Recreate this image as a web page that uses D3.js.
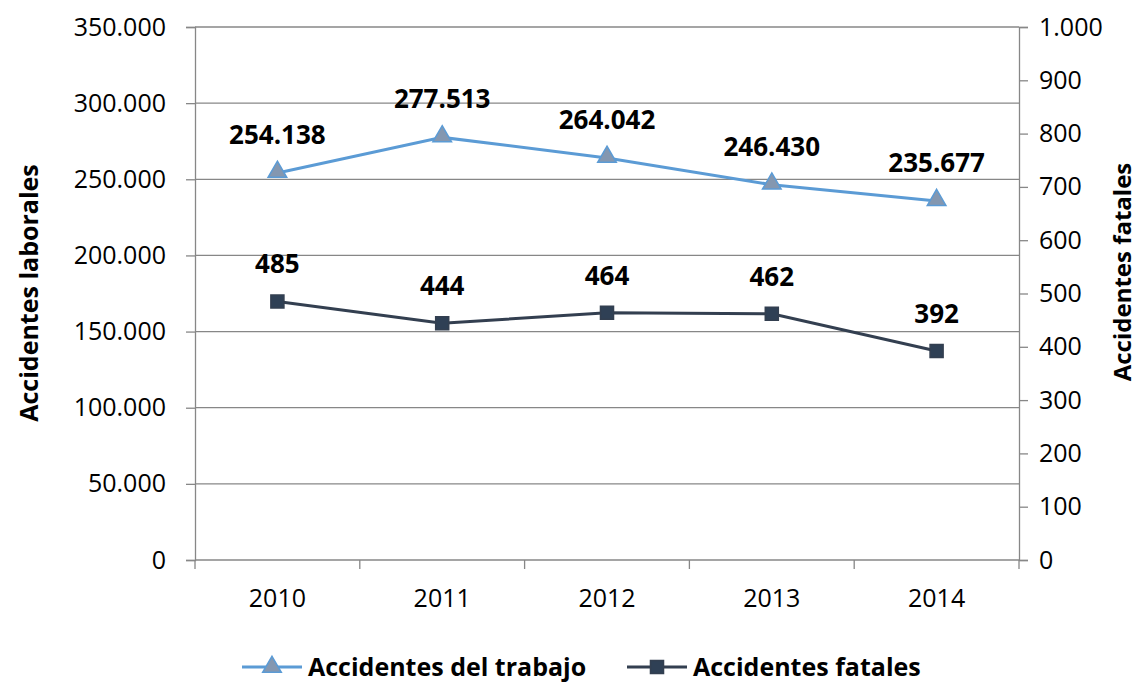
<!DOCTYPE html>
<html>
<head>
<meta charset="utf-8">
<script src="https://cdn.jsdelivr.net/npm/d3@7"></script>
<style>
  body { margin: 0; background: #fff; }
  text { font-family: "Open Sans", "Noto Sans", sans-serif; }
</style>
</head>
<body>
<div id="chart"></div>
<script>
// data
var years = ['2010', '2011', '2012', '2013', '2014'];
var trabajo = [254138, 277513, 264042, 246430, 235677];
var fatales = [485, 444, 464, 462, 392];
var leftTicks = [0, 50000, 100000, 150000, 200000, 250000, 300000, 350000];
var rightTicks = [0, 100, 200, 300, 400, 500, 600, 700, 800, 900, 1000];
var seriesNames = ['Accidentes del trabajo', 'Accidentes fatales'];

var W = 1139, H = 683;
var pLeft = 195, pRight = 1019, pTop = 27, pBottom = 560;

var fmt = d3.formatLocale({decimal: ',', thousands: '.', grouping: [3], currency: ['', '']}).format(',');

var svg = d3.select('#chart').append('svg')
  .attr('width', W).attr('height', H);

var x = d3.scaleBand().domain(years).range([pLeft, pRight]);
var yL = d3.scaleLinear().domain([0, 350000]).range([pBottom, pTop]);
var yR = d3.scaleLinear().domain([0, 1000]).range([pBottom, pTop]);

var gridColor = '#878787';

// gridlines
svg.append('g').selectAll('line')
  .data(leftTicks.filter(function(d){ return d > 0; }))
  .enter().append('line')
  .attr('x1', pLeft).attr('x2', pRight)
  .attr('y1', function(d){ return yL(d); })
  .attr('y2', function(d){ return yL(d); })
  .attr('stroke', gridColor).attr('stroke-width', 1.3);

// left axis
var leftAxis = svg.append('g').attr('transform', 'translate(' + pLeft + ',0)')
  .call(d3.axisLeft(yL).tickValues(leftTicks).tickFormat(fmt).tickSizeOuter(0).tickSize(9).tickPadding(20));
// right axis
var rightAxis = svg.append('g').attr('transform', 'translate(' + pRight + ',0)')
  .call(d3.axisRight(yR).tickValues(rightTicks).tickFormat(fmt).tickSizeOuter(0).tickSize(9).tickPadding(11));
// bottom axis with ticks at band edges
var bottomAxis = svg.append('g').attr('transform', 'translate(0,' + pBottom + ')')
  .call(d3.axisBottom(x).tickSize(0).tickPadding(29));
svg.append('g').selectAll('line')
  .data(d3.range(years.length + 1))
  .enter().append('line')
  .attr('x1', function(i){ return pLeft + i * x.step(); })
  .attr('x2', function(i){ return pLeft + i * x.step(); })
  .attr('y1', pBottom).attr('y2', pBottom + 9)
  .attr('stroke', gridColor).attr('stroke-width', 1.3);

[leftAxis, rightAxis, bottomAxis].forEach(function(a){
  a.selectAll('path, line').attr('stroke', gridColor).attr('stroke-width', 1.3);
  a.selectAll('text').style('font-size', '25px').attr('fill', '#000')
    .style('font-family', '"Open Sans", "Noto Sans", sans-serif');
});
bottomAxis.select('path').attr('d', 'M' + pLeft + ',0H' + pRight);

// axis titles
svg.append('text')
  .attr('transform', 'translate(38,293) rotate(-90)')
  .attr('text-anchor', 'middle')
  .style('font-size', '25px').style('font-weight', 'bold')
  .text('Accidentes laborales');
svg.append('text')
  .attr('transform', 'translate(1131,272) rotate(-90)')
  .attr('text-anchor', 'middle')
  .style('font-size', '24px').style('font-weight', 'bold')
  .text('Accidentes fatales');

var cx = function(i){ return x(years[i]) + x.bandwidth() / 2; };

var blue = '#5b9bd5', triFill = '#8497b0', navy = '#333f50', sqFill = '#2f4055';

// trabajo line
svg.append('path')
  .datum(trabajo)
  .attr('fill', 'none').attr('stroke', blue).attr('stroke-width', 3)
  .attr('d', d3.line().x(function(d, i){ return cx(i); }).y(function(d){ return yL(d); }));
// fatales line
svg.append('path')
  .datum(fatales)
  .attr('fill', 'none').attr('stroke', navy).attr('stroke-width', 3)
  .attr('d', d3.line().x(function(d, i){ return cx(i); }).y(function(d){ return yR(d); }));

var tri = d3.symbol().type(d3.symbolTriangle).size(150);
var sq = d3.symbol().type(d3.symbolSquare).size(170);

svg.append('g').selectAll('path')
  .data(trabajo).enter().append('path')
  .attr('d', tri)
  .attr('transform', function(d, i){ return 'translate(' + cx(i) + ',' + (yL(d) - 1) + ')'; })
  .attr('fill', triFill).attr('stroke', blue).attr('stroke-width', 1.5);

svg.append('g').selectAll('path')
  .data(fatales).enter().append('path')
  .attr('d', sq)
  .attr('transform', function(d, i){ return 'translate(' + cx(i) + ',' + yR(d) + ')'; })
  .attr('fill', sqFill).attr('stroke', navy).attr('stroke-width', 1.5);

// data labels
svg.append('g').selectAll('text')
  .data(trabajo).enter().append('text')
  .attr('x', function(d, i){ return cx(i); })
  .attr('y', function(d){ return yL(d) - 29; })
  .attr('text-anchor', 'middle')
  .style('font-size', '26px').style('font-weight', 'bold')
  .text(function(d){ return fmt(d); });

svg.append('g').selectAll('text')
  .data(fatales).enter().append('text')
  .attr('x', function(d, i){ return cx(i); })
  .attr('y', function(d){ return yR(d) - 28; })
  .attr('text-anchor', 'middle')
  .style('font-size', '26px').style('font-weight', 'bold')
  .text(function(d){ return d; });

// legend
var legY = 667;
var leg = svg.append('g');
var legItems = [
  {x: 242, color: blue, fill: triFill, sym: tri, name: seriesNames[0]},
  {x: 627, color: navy, fill: sqFill, sym: sq, name: seriesNames[1]}
];
legItems.forEach(function(it){
  leg.append('line')
    .attr('x1', it.x).attr('x2', it.x + 60)
    .attr('y1', legY).attr('y2', legY)
    .attr('stroke', it.color).attr('stroke-width', 3);
  leg.append('path').attr('d', it.sym)
    .attr('transform', 'translate(' + (it.x + 30) + ',' + legY + ')')
    .attr('fill', it.fill).attr('stroke', it.color).attr('stroke-width', 1.5);
  leg.append('text')
    .attr('x', it.x + 66).attr('y', legY + 9)
    .style('font-size', '25px').style('font-weight', 'bold')
    .text(it.name);
});
</script>
</body>
</html>
